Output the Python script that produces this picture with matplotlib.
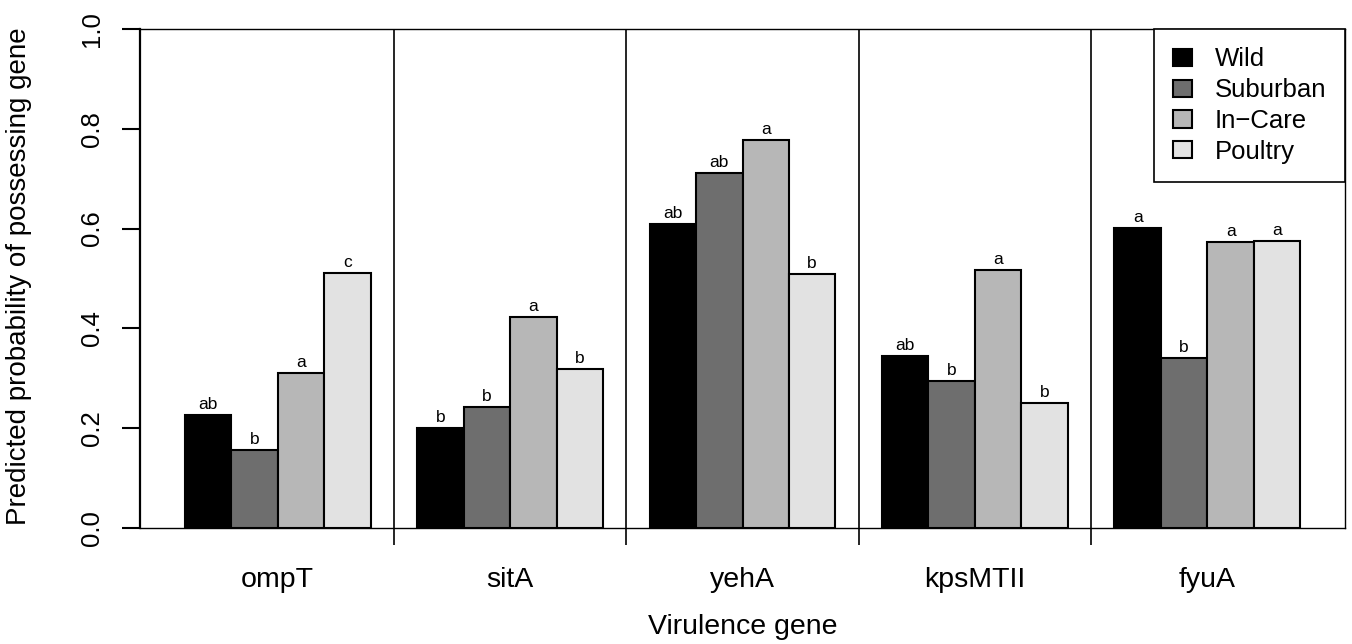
import numpy as np
import matplotlib
matplotlib.use("Agg")
import matplotlib.pyplot as plt
from matplotlib.patches import Patch

plt.rcParams['font.family'] = ['Liberation Sans', 'DejaVu Sans']

genes = ["ompT", "sitA", "yehA", "kpsMTII", "fyuA"]
groups = ["Wild", "Suburban", "In\u2212Care", "Poultry"]
colors = ["#000000", "#6e6e6e", "#b7b7b7", "#e2e2e2"]

wild = [0.226, 0.200, 0.609, 0.345, 0.601]
suburban = [0.156, 0.242, 0.711, 0.295, 0.341]
incare = [0.311, 0.423, 0.778, 0.517, 0.573]
poultry = [0.512, 0.319, 0.509, 0.251, 0.575]

let_wild = ["ab", "b", "ab", "ab", "a"]
let_suburban = ["b", "b", "ab", "b", "b"]
let_incare = ["a", "a", "a", "a", "a"]
let_poultry = ["c", "b", "b", "b", "a"]

values = [wild, suburban, incare, poultry]
letters = [let_wild, let_suburban, let_incare, let_poultry]

fig = plt.figure(figsize=(13.52, 6.44), dpi=100)
ax = fig.add_axes([140/1352, 1 - 528/644, (1345-140)/1352, (528-29)/644])

# R style barplot(beside=TRUE): bar width 1, gap 1 between groups
for j in range(4):
    xs = [1 + 5*i + j + 0.5 for i in range(len(genes))]
    ax.bar(xs, values[j], width=1.0, color=colors[j], edgecolor="black",
           linewidth=1.5, label=groups[j], zorder=3)
    for x, v, t in zip(xs, values[j], letters[j]):
        ax.annotate(t, (x, v), xytext=(0, 2), textcoords="offset points",
                    ha="center", va="bottom", fontsize=12.5, zorder=4)

seps = [5.5 + 5*i for i in range(4)]
for s in seps:
    ax.axvline(s, color="black", linewidth=1.2, zorder=1)

ax.set_xlim(0.04, 25.96)
ax.set_ylim(0, 1.0)

ax.set_xticks(seps)
ax.set_xticklabels([])
ax.tick_params(axis="x", which="major", length=12, width=1.2, direction="out")
ax.set_xticks([3 + 5*i for i in range(len(genes))], minor=True)
ax.set_xticklabels(genes, minor=True, fontsize=20.5)
ax.tick_params(axis="x", which="minor", length=0, pad=28)

ax.set_yticks([0, 0.2, 0.4, 0.6, 0.8, 1.0])
ax.set_yticklabels(["0.0", "0.2", "0.4", "0.6", "0.8", "1.0"], rotation=90,
                   va="center", fontsize=18.5)
ax.tick_params(axis="y", length=13, width=1.5, direction="out", pad=13)

for sp in ax.spines.values():
    sp.set_linewidth(1.0)
ax.spines["left"].set_linewidth(1.6)

ax.set_xlabel("Virulence gene", fontsize=20.5)
ax.xaxis.set_label_coords(0.5, -0.172)
ax.set_ylabel("Predicted probability of possessing gene", fontsize=20)
ax.yaxis.set_label_coords(-0.090, 0.505)

handles = [Patch(facecolor=c, edgecolor="black", linewidth=1.5) for c in colors]
leg = ax.legend(handles, groups, loc="upper right", fontsize=18.5, frameon=True,
                fancybox=False, framealpha=1, edgecolor="black",
                borderaxespad=0, borderpad=0.72, handlelength=0.74,
                handleheight=0.66, handletextpad=0.9, labelspacing=0.26)
leg.get_frame().set_linewidth(1.2)

fig.savefig("out.png", dpi=100)
plt.close()
